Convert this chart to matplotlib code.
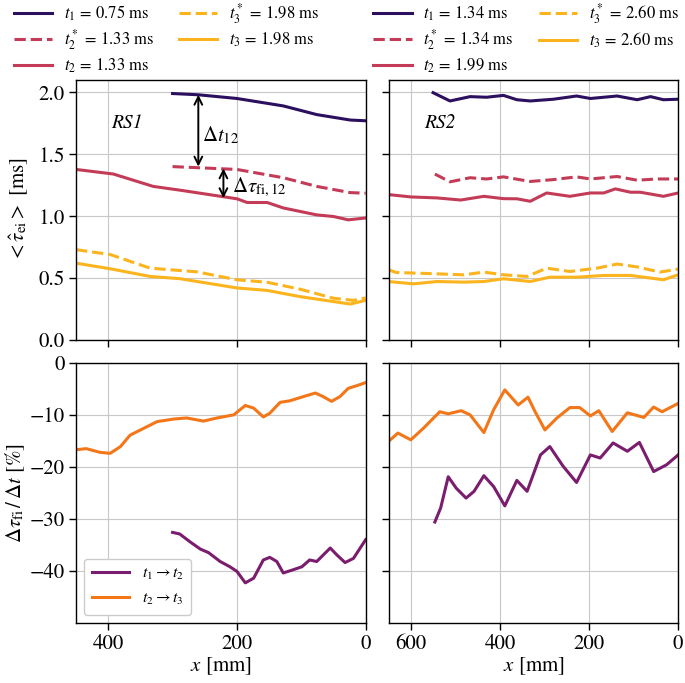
import matplotlib

matplotlib.use("Agg")
import matplotlib.pyplot as plt

plt.rcParams["font.family"] = "STIXGeneral"
plt.rcParams["mathtext.fontset"] = "stix"
plt.rcParams["font.size"] = 14
plt.rcParams["xtick.direction"] = "out"
plt.rcParams["ytick.direction"] = "out"

# ---- RS1: mean eddy interaction time vs x ----
rs1_t1_x = [300, 260, 200, 128, 76, 24, 0]
rs1_t1_y = [1.99, 1.98, 1.95, 1.89, 1.82, 1.776, 1.77]
rs1_t2s_x = [300, 200, 128, 76, 24, 0]
rs1_t2s_y = [1.40, 1.377, 1.31, 1.24, 1.19, 1.185]
rs1_t2_x = [450, 392, 330, 289, 200, 184, 153, 128, 76, 50, 27, 0]
rs1_t2_y = [1.377, 1.34, 1.24, 1.21, 1.14, 1.11, 1.11, 1.066, 1.01, 0.997, 0.97, 0.985]
rs1_t3s_x = [450, 397, 335, 262, 200, 153, 102, 50, 19, 0]
rs1_t3s_y = [0.729, 0.69, 0.58, 0.55, 0.486, 0.466, 0.41, 0.337, 0.32, 0.34]
rs1_t3_x = [450, 397, 335, 289, 200, 153, 102, 50, 24, 0]
rs1_t3_y = [0.62, 0.575, 0.513, 0.495, 0.42, 0.40, 0.35, 0.31, 0.29, 0.32]

# ---- RS2 ----
rs2_t1_x = [550, 512, 467, 430, 392, 362, 332, 280, 228, 197, 137, 92, 62, 33, 0]
rs2_t1_y = [1.997, 1.93, 1.965, 1.96, 1.975, 1.94, 1.93, 1.944, 1.97, 1.95, 1.97, 1.94, 1.965, 1.94, 1.944]
rs2_t2s_x = [546, 512, 467, 430, 392, 332, 280, 228, 197, 137, 92, 48, 0]
rs2_t2s_y = [1.34, 1.277, 1.31, 1.30, 1.317, 1.28, 1.295, 1.317, 1.30, 1.32, 1.29, 1.30, 1.30]
rs2_t2_x = [650, 600, 541, 488, 436, 392, 362, 332, 295, 243, 197, 167, 141, 107, 85, 33, 0]
rs2_t2_y = [1.174, 1.155, 1.147, 1.13, 1.16, 1.141, 1.14, 1.12, 1.187, 1.16, 1.187, 1.187, 1.22,
            1.193, 1.193, 1.16, 1.187]
rs2_t3s_x = [650, 633, 541, 481, 436, 392, 339, 295, 243, 182, 137, 92, 41, 0]
rs2_t3s_y = [0.567, 0.545, 0.534, 0.526, 0.548, 0.526, 0.513, 0.58, 0.553, 0.58, 0.613, 0.59,
             0.548, 0.572]
rs2_t3_x = [650, 594, 541, 481, 436, 392, 332, 288, 228, 167, 107, 33, 0]
rs2_t3_y = [0.472, 0.453, 0.472, 0.467, 0.472, 0.494, 0.472, 0.507, 0.507, 0.521, 0.521, 0.486, 0.526]

# ---- relative change dtau_fi / dt [%] ----
rs1_d23_x = [450, 434, 413, 397, 381, 366, 345, 324, 298, 278, 252, 231, 205, 187, 174, 159,
             149, 133, 118, 97, 78, 66, 53, 40, 27, 14, 0]
rs1_d23_y = [-16.7, -16.5, -17.2, -17.4, -16.1, -13.9, -12.6, -11.3, -10.8, -10.6, -11.2, -10.6,
             -10.0, -8.2, -8.7, -10.4, -9.7, -7.6, -7.3, -6.5, -5.8, -6.5, -7.4, -6.5, -4.9, -4.4, -3.8]
rs1_d12_x = [300, 289, 273, 257, 244, 226, 211, 200, 187, 174, 159, 149, 138, 128, 113, 99, 87,
             76, 55, 45, 32, 19, 0]
rs1_d12_y = [-32.6, -32.9, -34.4, -35.8, -36.5, -38.2, -39.2, -40.1, -42.3, -41.4, -37.9, -37.4,
             -38.2, -40.4, -39.8, -39.2, -37.9, -38.2, -35.6, -36.9, -38.4, -37.6, -34.0]
rs2_d23_x = [650, 629, 600, 572, 535, 516, 487, 467, 436, 414, 389, 359, 337, 321, 299, 272, 243,
             221, 197, 178, 148, 114, 77, 55, 36, 0]
rs2_d23_y = [-15.1, -13.5, -14.8, -12.6, -9.4, -9.8, -9.2, -10.0, -13.4, -9.0, -5.2, -8.1, -6.6,
             -9.4, -12.9, -10.6, -8.6, -8.6, -10.2, -9.2, -13.2, -9.6, -10.5, -8.5, -9.4, -7.8]
rs2_d12_x = [546, 533, 516, 498, 476, 458, 436, 414, 389, 362, 339, 309, 288, 258, 228, 197, 175,
             146, 114, 87, 55, 26, 0]
rs2_d12_y = [-30.6, -27.9, -21.9, -24.1, -26.0, -24.7, -21.7, -23.8, -27.5, -22.6, -24.7, -17.7,
             -16.1, -19.9, -23.0, -17.7, -18.3, -15.4, -17.0, -15.3, -20.9, -19.6, -17.7]

legend_rs1 = [r"$t_1 \,=\, 0.75$ ms", r"$t_2^* \,=\, 1.33$ ms", r"$t_2 \,=\, 1.33$ ms",
              r"$t_3^* \,=\, 1.98$ ms", r"$t_3 \,=\, 1.98$ ms"]
legend_rs2 = [r"$t_1 \,=\, 1.34$ ms", r"$t_2^* \,=\, 1.34$ ms", r"$t_2 \,=\, 1.99$ ms",
              r"$t_3^* \,=\, 2.60$ ms", r"$t_3 \,=\, 2.60$ ms"]

c_t1 = "#2c0f5e"
c_t2 = "#c33b57"
c_t3 = "#fbb41d"
c_d12 = "#7a1d6e"
c_d23 = "#f37619"
lw = 2.2

fig, axes = plt.subplots(2, 2, figsize=(6.85, 6.83), dpi=100, sharex="col", sharey="row")
fig.subplots_adjust(left=0.111, right=0.99, top=0.883, bottom=0.088, wspace=0.079, hspace=0.088)

top_sets = [
    (rs1_t1_x, rs1_t1_y, rs1_t2s_x, rs1_t2s_y, rs1_t2_x, rs1_t2_y,
     rs1_t3s_x, rs1_t3s_y, rs1_t3_x, rs1_t3_y, legend_rs1),
    (rs2_t1_x, rs2_t1_y, rs2_t2s_x, rs2_t2s_y, rs2_t2_x, rs2_t2_y,
     rs2_t3s_x, rs2_t3s_y, rs2_t3_x, rs2_t3_y, legend_rs2),
]
legend_pos = [(0.008, 1.01), (0.533, 1.01)]

for i, (ax, s) in enumerate(zip(axes[0], top_sets)):
    x1, y1, x2s, y2s, x2, y2, x3s, y3s, x3, y3, labels = s
    h1, = ax.plot(x1, y1, color=c_t1, lw=lw)
    h2s, = ax.plot(x2s, y2s, color=c_t2, lw=lw, ls="--")
    h2, = ax.plot(x2, y2, color=c_t2, lw=lw)
    h3s, = ax.plot(x3s, y3s, color=c_t3, lw=lw, ls="--")
    h3, = ax.plot(x3, y3, color=c_t3, lw=lw)
    fig.legend([h1, h2s, h2, h3s, h3], labels, ncol=2, frameon=False, fontsize=12,
               loc="upper left", bbox_to_anchor=legend_pos[i], handlelength=2.3,
               handletextpad=0.7, columnspacing=1.5, labelspacing=0.25, borderpad=0.0)

for ax, d12x, d12y, d23x, d23y in [
    (axes[1, 0], rs1_d12_x, rs1_d12_y, rs1_d23_x, rs1_d23_y),
    (axes[1, 1], rs2_d12_x, rs2_d12_y, rs2_d23_x, rs2_d23_y),
]:
    ax.plot(d12x, d12y, color=c_d12, lw=lw, label=r"$t_1 \rightarrow t_2$")
    ax.plot(d23x, d23y, color=c_d23, lw=lw, label=r"$t_2 \rightarrow t_3$")

axes[1, 0].legend(loc="lower left", fontsize=11.5, handlelength=2.3, framealpha=1,
                  edgecolor="#cccccc", borderpad=0.5, labelspacing=0.6)

axes[0, 0].set_xlim(450, 0)
axes[0, 1].set_xlim(650, 0)
axes[0, 0].set_ylim(0, 2.1)
axes[1, 0].set_ylim(-50, 0)
axes[0, 0].set_yticks([0.0, 0.5, 1.0, 1.5, 2.0])
axes[1, 0].set_yticks([0, -10, -20, -30, -40])
axes[0, 0].set_xticks([400, 200, 0])
axes[0, 1].set_xticks([600, 400, 200, 0])

for ax in axes.flat:
    ax.grid(True, color="#c8c8c8", lw=0.8)
    ax.set_axisbelow(True)
    ax.tick_params(length=5, width=1, labelsize=15, pad=3)
    for sp in ax.spines.values():
        sp.set_linewidth(1.0)

axes[0, 0].set_ylabel(r"$<\hat{\tau}_\mathrm{ei}>$ [ms]", fontsize=15, labelpad=6)
axes[1, 0].set_ylabel(r"$\Delta\tau_\mathrm{fi}\,/\,\Delta t$ [%]", fontsize=15, labelpad=2)
axes[1, 0].set_xlabel("$x$ [mm]", fontsize=15, labelpad=1)
axes[1, 1].set_xlabel("$x$ [mm]", fontsize=15, labelpad=1)

axes[0, 0].text(371, 1.75, "RS1", style="italic", ha="center", va="center", fontsize=14)
axes[0, 1].text(535, 1.75, "RS2", style="italic", ha="center", va="center", fontsize=14)

arrow = dict(arrowstyle="<->", color="k", lw=1.4, shrinkA=0, shrinkB=0)
axes[0, 0].annotate("", xy=(260, 1.98), xytext=(260, 1.40), arrowprops=arrow)
axes[0, 0].text(254, 1.65, r"$\Delta t_{12}$", ha="left", va="center", fontsize=15)
axes[0, 0].annotate("", xy=(221, 1.385), xytext=(221, 1.145), arrowprops=arrow)
axes[0, 0].text(207, 1.23, r"$\Delta\tau_\mathrm{fi,12}$", ha="left", va="center", fontsize=15)

fig.savefig("out.png", dpi=100)
